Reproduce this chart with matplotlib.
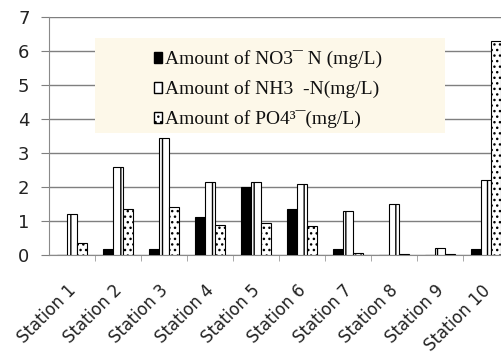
import matplotlib
matplotlib.use("Agg")
import matplotlib.pyplot as plt
import matplotlib.transforms as mtransforms
import numpy as np
from matplotlib.patches import Rectangle, Patch

stations = ["Station 1", "Station 2", "Station 3", "Station 4", "Station 5",
            "Station 6", "Station 7", "Station 8", "Station 9", "Station 10"]
no3 = [0.0, 0.17, 0.17, 1.12, 2.0, 1.35, 0.17, 0.0, 0.0, 0.17]
nh3 = [1.22, 2.6, 3.45, 2.15, 2.15, 2.1, 1.3, 1.5, 0.2, 2.2]
po4 = [0.35, 1.35, 1.4, 0.88, 0.95, 0.85, 0.07, 0.03, 0.03, 6.3]
series_labels = ["Amount of NO3¯ N (mg/L)", "Amount of NH3  -N(mg/L)", "Amount of PO4³¯(mg/L)"]
yticks = [0, 1, 2, 3, 4, 5, 6, 7]

plt.rcParams['hatch.linewidth'] = 1.0
fig = plt.figure(figsize=(5.01, 3.64), dpi=100)
ax = fig.add_axes([49/501, 1-255/364, 460/501, (255-17)/364])

x = np.arange(len(stations))
w = 0.215
ax.bar(x - w, no3, w, color='black', edgecolor='black', linewidth=0.8, zorder=3)
ax.bar(x, nh3, w, color='white', edgecolor='black', hatch='||', linewidth=0.8, zorder=3)
ax.bar(x + w, po4, w, color='white', edgecolor='black', hatch='...', linewidth=0.8, zorder=3)

ax.set_xlim(-0.5, len(stations) - 0.5)
ax.set_ylim(0, 7)
ax.set_yticks(yticks)
ax.set_yticklabels([str(v) for v in yticks], fontsize=13, family='DejaVu Sans')
ax.yaxis.grid(True, color='#7f7f7f', linewidth=1.0, zorder=0)
ax.set_axisbelow(True)
ax.tick_params(axis='y', length=6, color='#7f7f7f', pad=8, colors='#222222')

ax.set_xticks(x)
ax.set_xticklabels(stations, rotation=45, ha='right', rotation_mode='anchor',
                   fontsize=12, family='DejaVu Sans', color='#222222')
ax.set_xticks(np.arange(0.5, len(stations) - 0.5, 1), minor=True)
ax.tick_params(axis='x', which='major', length=0, pad=19)
ax.tick_params(axis='x', which='minor', length=4, color='#9a9a9a')
offset = mtransforms.ScaledTranslation(-5/100, 0, fig.dpi_scale_trans)
for lbl in ax.get_xticklabels():
    lbl.set_transform(lbl.get_transform() + offset)

for s in ['top', 'right']:
    ax.spines[s].set_visible(False)
ax.spines['left'].set_color('#8a8a8a')
ax.spines['bottom'].set_color('#8a8a8a')

# legend background box
box = Rectangle((95/501, 1-133/364), (445-95)/501, (133-38)/364, transform=fig.transFigure,
                facecolor='#fdf8e9', edgecolor='none', zorder=2)
fig.patches.append(box)

handles = [Patch(facecolor='black', edgecolor='black'),
           Patch(facecolor='white', edgecolor='black', hatch='||'),
           Patch(facecolor='white', edgecolor='black', hatch='...')]
leg = fig.legend(handles, series_labels, loc='upper left', bbox_to_anchor=(136/501, 1-33/364),
                 frameon=False, handlelength=0.45, handleheight=0.45, handletextpad=0.15,
                 labelspacing=0.62, prop={'family': 'Liberation Serif', 'size': 14})
for t in leg.get_texts():
    t.set_color('#111111')

fig.savefig("out.png", dpi=100)
